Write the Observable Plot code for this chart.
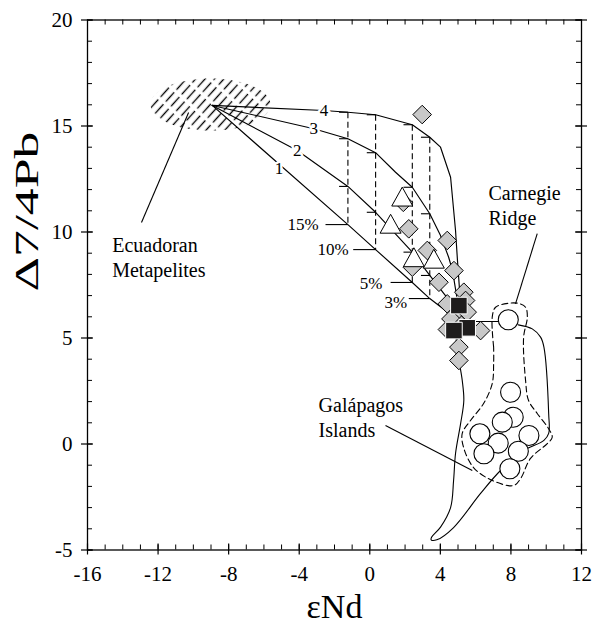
<!DOCTYPE html>
<html><head><meta charset="utf-8">
<script src="https://cdn.jsdelivr.net/npm/d3@7"></script>
<script src="https://cdn.jsdelivr.net/npm/@observablehq/plot@0.6"></script>
<style>body{margin:0;background:#fff}</style>
</head><body><div id="chart"></div>
<script>
// ---------- axes ----------
const xDomain = [-16, 12];
const yDomain = [-5, 20];
const xMajor = [-16, -12, -8, -4, 0, 4, 8, 12];
const yMajor = [-5, 0, 5, 10, 15, 20];
const xMinor = d3.range(-16, 13, 1);
const yMinor = d3.range(-5, 21, 1);

// ---------- Ecuadoran metapelites field (ellipse: cx, cy, rx, ry) ----------
const metapelite = {cx: -9.03, cy: 16.01, rx: 3.4, ry: 1.23};

// ---------- mixing curves 1-4 [eNd, D7/4Pb] ----------
const curve1 = [[-8.93,15.97],[-1.24,10.35],[0.33,9.17],[2.41,7.62],[3.40,6.86],[4.6,6.1],[5.15,5.78]];
const curve2 = [[-8.93,15.97],[-4.11,13.84],[-1.24,12.15],[0.33,10.93],[2.41,9.05],[3.40,7.95],[4.29,7.0],[4.8,6.3],[5.15,5.78]];
const curve3 = [[-8.93,15.97],[-3.17,14.87],[-1.24,14.40],[0.33,13.74],[1.46,12.82],[2.41,12.11],[3.40,10.86],[4.01,9.83],[4.47,8.81],[4.69,8.18],[4.92,7.0],[5.15,5.78]];
const curve4 = [[-8.93,15.97],[-2.6,15.73],[-1.24,15.65],[0.33,15.53],[2.41,15.06],[3.40,14.47],[4.01,14.0],[4.58,12.58],[4.86,10.07],[4.97,8.66],[5.09,7.24],[5.15,5.78]];
const curveNames = ["1", "2", "3", "4"];
const curveLabelX = [-5.15, -4.11, -3.17, -2.6];
const curveLabelY = [12.98, 13.84, 14.87, 15.73];

// ---------- % mixing lines ----------
const pctNames = ["15%", "10%", "5%", "3%"];
const pctX = [-1.24, 0.33, 2.41, 3.40];
const c4AtPct = [15.65, 15.53, 15.06, 14.47];
const c3AtPct = [14.40, 13.74, 12.11, 10.86];
const c2AtPct = [12.15, 10.93, 9.05, 7.95];
const c1AtPct = [10.35, 9.17, 7.62, 6.86];
const pctLeaderX = [-2.51, -0.94, 1.18, 2.21];
const pctTextX = [-2.90, -1.19, 0.71, 2.12];
const pctTextY = [10.35, 9.17, 7.59, 6.65];

// ---------- fields ----------
const connector = [[5.15,5.78],[7.3,5.78]];
const galapagosField = [[5.0,5.6],[4.9,4.9],[5.24,3.0],[5.33,2.05],[5.15,0.97],[4.86,-0.45],[4.75,-1.72],[4.58,-3.0],[4.01,-3.92],[3.5,-4.40],[3.48,-4.52],[3.8,-4.52],[4.75,-3.94],[6.28,-2.33],[7.41,-1.25],[8.74,-0.31],[9.87,0.17],[10.14,0.5],[10.14,1.43],[9.87,4.57],[9.68,5.04],[9.21,5.43],[8.42,5.62]];
const dashedField = [[7.02,4.57],[6.94,5.98],[7.13,6.45],[7.87,6.64],[8.43,6.63],[8.83,6.45],[8.93,5.98],[8.72,5.04],[8.83,3.0],[9.0,2.05],[9.49,1.44],[10.13,0.73],[10.34,0.32],[10.06,0.02],[9.11,-0.68],[8.55,-1.63],[8.15,-1.96],[6.94,-1.72],[5.88,-1.11],[5.32,-0.17],[5.24,0.5],[5.71,1.11],[6.45,1.91],[6.94,2.85],[7.02,3.8],[7.02,4.57]];

// ---------- samples ----------
const diamondsX = [2.97, 2.21, 4.39, 3.26, 1.9, 2.41, 3.92, 4.39, 4.77, 5.33, 5.43, 4.86, 5.52, 6.28, 4.4, 5.05, 5.05, 4.6, 5.2];
const diamondsY = [15.54, 10.15, 9.6, 9.13, 11.4, 8.34, 7.63, 6.61, 8.18, 7.16, 6.77, 6.08, 6.22, 5.35, 5.4, 4.57, 3.94, 5.9, 5.6];
const trianglesX = [1.84, 1.18, 2.50, 3.63];
const trianglesY = [11.67, 10.39, 8.81, 8.74];
const squaresX = [5.05, 5.52, 4.77];
const squaresY = [6.53, 5.48, 5.35];
const galapagosX = [7.98, 8.13, 7.51, 6.24, 7.28, 9.02, 6.47, 8.42, 7.94];
const galapagosY = [2.44, 1.26, 1.03, 0.48, 0.04, 0.4, -0.46, -0.34, -1.17];
const carnegieX = [7.85];
const carnegieY = [5.86];

// ---------- annotations ----------
const annotations = [
  {text: "Ecuadoran\nMetapelites", x: -14.6, y: 7.87},
  {text: "Galápagos\nIslands", x: -2.9, y: 0.32},
  {text: "Carnegie\nRidge", x: 6.73, y: 10.31}
];
const leaders = [
  {x1: -12.94, y1: 10.45, x2: -10.27, y2: 15.64},
  {x1: 0.89, y1: 0.87, x2: 5.81, y2: -1.25},
  {x1: 9.49, y1: 9.92, x2: 8.26, y2: 6.61}
];

// ---------- build ----------
const toPts = a => a.map(([x, y]) => ({x, y}));
const zip = (xs, ys) => xs.map((x, i) => ({x, y: ys[i]}));
const ellipsePts = d3.range(0, 361, 5).map(a => ({
  x: metapelite.cx + metapelite.rx * Math.cos(a * Math.PI / 180),
  y: metapelite.cy + metapelite.ry * Math.sin(a * Math.PI / 180)
}));
const curves = [curve1, curve2, curve3, curve4];
const curveLabels = curveNames.map((t, i) => ({t, x: curveLabelX[i], y: curveLabelY[i]}));
const pct = pctNames.map((t, i) => ({t, x: pctX[i], y4: c4AtPct[i], y1: c1AtPct[i], lx: pctLeaderX[i], tx: pctTextX[i], ty: pctTextY[i]}));
const pctTicks = pctX.flatMap((x, i) => [c4AtPct[i], c3AtPct[i], c2AtPct[i]].map(y => ({x, y})));

const sym = (f) => ({draw(ctx, size) { f(ctx, Math.sqrt(size / Math.PI)); }});
const diamondSym = sym((c, r) => { c.moveTo(0, -r); c.lineTo(r, 0); c.lineTo(0, r); c.lineTo(-r, 0); c.closePath(); });
const squareSym = sym((c, r) => { c.moveTo(-r, -r); c.lineTo(r, -r); c.lineTo(r, r); c.lineTo(-r, r); c.closePath(); });
const triSym = sym((c, r) => { c.moveTo(0, -0.9 * r); c.lineTo(r, 0.9 * r); c.lineTo(-r, 0.9 * r); c.closePath(); });

const W = 595, H = 624, mL = 87, mR = 14, mT = 19.5, mB = 74.5;
const pw = W - mL - mR, ph = H - mT - mB;
const serif = "'Liberation Serif', 'Times New Roman', serif";

const svg = Plot.plot({
  width: W, height: H,
  marginLeft: mL, marginRight: mR, marginTop: mT, marginBottom: mB,
  x: {domain: xDomain, axis: null},
  y: {domain: yDomain, axis: null},
  style: {fontFamily: serif, background: "white", color: "black"},
  marks: [
    // hatched metapelite field
    Plot.line(ellipsePts, {x: "x", y: "y", fill: "url(#hatch)", stroke: "none"}),
    // leaders
    Plot.link(leaders, {x1: "x1", y1: "y1", x2: "x2", y2: "y2", stroke: "black", strokeWidth: 1.1}),
    // mixing curves
    ...curves.map(c => Plot.line(toPts(c), {x: "x", y: "y", stroke: "black", strokeWidth: 1.15})),
    // % dashed lines
    Plot.link(pct, {x1: "x", x2: "x", y1: "y4", y2: "y1", stroke: "black", strokeWidth: 1.1, strokeDasharray: "6,3.5"}),
    Plot.link(pctTicks, {x1: d => d.x - 0.5, x2: "x", y1: "y", y2: "y", stroke: "black", strokeWidth: 1.1}),
    Plot.link(pct, {x1: "lx", x2: "x", y1: "y1", y2: "y1", stroke: "black", strokeWidth: 1.1}),
    // fields
    Plot.line(toPts(galapagosField), {x: "x", y: "y", stroke: "black", strokeWidth: 1.1, curve: "catmull-rom"}),
    Plot.line(toPts(connector), {x: "x", y: "y", stroke: "black", strokeWidth: 1.1}),
    Plot.line(toPts(dashedField), {x: "x", y: "y", stroke: "black", strokeWidth: 1.1, strokeDasharray: "6,3.5", curve: "catmull-rom"}),
    // samples
    Plot.dot(zip(galapagosX, galapagosY), {x: "x", y: "y", r: 10, fill: "white", stroke: "black", strokeWidth: 1.1}),
    Plot.dot(zip(carnegieX, carnegieY), {x: "x", y: "y", r: 10, fill: "white", stroke: "black", strokeWidth: 1.1}),
    Plot.dot(zip(diamondsX, diamondsY), {x: "x", y: "y", r: 9.3, symbol: diamondSym, fill: "#c8c8c8", stroke: "black", strokeWidth: 1}),
    Plot.dot(zip(trianglesX, trianglesY), {x: "x", y: "y", r: 10.5, symbol: triSym, fill: "white", stroke: "black", strokeWidth: 1}),
    Plot.dot(zip(squaresX, squaresY), {x: "x", y: "y", r: 8.3, symbol: squareSym, fill: "#1e1c1c", stroke: "white", strokeWidth: 1}),
    // labels
    Plot.text(curveLabels, {x: "x", y: "y", text: "t", fontSize: 17, fill: "black", stroke: "white", strokeWidth: 5, paintOrder: "stroke"}),
    Plot.text(pct, {x: "tx", y: "ty", text: "t", fontSize: 17, textAnchor: "end", fill: "black"}),
    Plot.text(annotations, {x: "x", y: "y", text: "text", fontSize: 20, textAnchor: "start", lineAnchor: "bottom", lineHeight: 1.25, fill: "black"}),
    // frame & ticks
    Plot.frame({stroke: "black", strokeWidth: 1.3}),
    Plot.tickX(xMinor, {x: d => d, insetTop: ph - 5, stroke: "black"}),
    Plot.tickX(xMinor, {x: d => d, insetBottom: ph - 5, stroke: "black"}),
    Plot.tickX(xMajor, {x: d => d, insetTop: ph - 6, insetBottom: -5, stroke: "black", strokeWidth: 1.2}),
    Plot.tickY(yMinor, {y: d => d, insetRight: pw - 5, stroke: "black"}),
    Plot.tickY(yMinor, {y: d => d, insetLeft: pw - 5, stroke: "black"}),
    Plot.tickY(yMajor, {y: d => d, insetRight: pw - 6, insetLeft: -6, stroke: "black", strokeWidth: 1.2}),
    Plot.tickY(yMajor, {y: d => d, insetLeft: pw - 6, insetRight: -6, stroke: "black", strokeWidth: 1.2}),
    Plot.axisX({anchor: "bottom", ticks: xMajor, tickSize: 0, tickPadding: 16, tickFormat: d => String(d), fontSize: 21}),
    Plot.axisY({anchor: "left", ticks: yMajor, tickSize: 0, tickPadding: 15, tickFormat: d => String(d), fontSize: 21}),
    Plot.text(["εNd"], {frameAnchor: "bottom", text: d => d, dy: 67.5, dx: 0, lineAnchor: "bottom", fontSize: 34, fill: "black"}),
    Plot.text(["Δ7/4Pb"], {frameAnchor: "left", text: d => d, dx: -60, dy: 6.5, rotate: -90, fontSize: 33, fill: "black", className: "ylab"})
  ]
});

const ns = "http://www.w3.org/2000/svg";
const defs = document.createElementNS(ns, "defs");
defs.innerHTML = '<pattern id="hatch" patternUnits="userSpaceOnUse" width="7" height="16" patternTransform="rotate(42)"><line x1="1.5" y1="0" x2="1.5" y2="12.5" stroke="#000" stroke-width="1.35"/></pattern>';
svg.insertBefore(defs, svg.firstChild);
const yl = svg.querySelector(".ylab text");
if (yl) { yl.setAttribute("textLength", "160"); yl.setAttribute("lengthAdjust", "spacingAndGlyphs"); }
document.getElementById("chart").appendChild(svg);
</script></body></html>
